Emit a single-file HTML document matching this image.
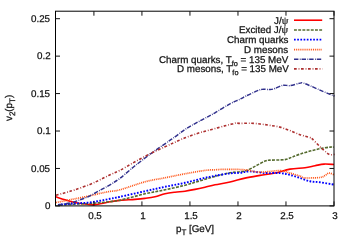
<!DOCTYPE html>
<html><head><meta charset="utf-8"><style>
html,body{margin:0;padding:0;background:#fff}
body{width:349px;height:245px;position:relative;overflow:hidden;font-family:"Liberation Sans",sans-serif}
.t{position:absolute;will-change:transform;text-rendering:geometricPrecision;-webkit-text-stroke:0.25px #111;font-size:9.8px;line-height:12px;color:#111;white-space:nowrap}
.c{text-align:center}
.s2{font-size:8px;position:relative;top:2.6px;line-height:0}
.p{font-family:"Liberation Serif",serif;-webkit-text-stroke:0.22px #111;font-size:10.5px;line-height:0}
.s{font-size:7.3px;position:relative;top:3px;line-height:0}
</style></head><body>
<svg width="349" height="245" viewBox="0 0 349 245" style="position:absolute;left:0;top:0">
<path d="M56.00,196.80 C57.50,197.30 61.83,198.85 65.00,199.80 C68.17,200.75 71.67,201.78 75.00,202.48 C78.33,203.18 82.00,203.60 85.00,203.99 C88.00,204.38 90.50,204.86 93.00,204.83 C95.50,204.80 97.17,204.33 100.00,203.82 C102.83,203.32 106.67,202.38 110.00,201.81 C113.33,201.24 115.83,200.80 120.00,200.40 C124.17,200.00 130.83,199.73 135.00,199.40 C139.17,199.07 141.67,198.83 145.00,198.40 C148.33,197.97 151.67,197.57 155.00,196.80 C158.33,196.03 161.67,194.57 165.00,193.80 C168.33,193.03 171.67,192.63 175.00,192.20 C178.33,191.77 181.67,191.67 185.00,191.20 C188.33,190.73 191.67,190.07 195.00,189.40 C198.33,188.73 201.67,187.97 205.00,187.20 C208.33,186.43 210.83,185.67 215.00,184.80 C219.17,183.93 225.00,183.12 230.00,182.00 C235.00,180.88 240.00,179.20 245.00,178.10 C250.00,177.00 255.00,176.24 260.00,175.40 C265.00,174.56 270.00,174.10 275.00,173.05 C280.00,172.00 285.00,169.99 290.00,169.10 C295.00,168.21 300.83,168.27 305.00,167.70 C309.17,167.13 311.83,166.30 315.00,165.70 C318.17,165.10 320.83,164.30 324.00,164.10 C327.17,163.90 332.33,164.43 334.00,164.50" fill="none" stroke="#ff0000" stroke-width="1.6" stroke-linejoin="round"/>
<path d="M60.00,204.83 C63.33,204.68 75.00,204.13 80.00,203.91 C85.00,203.68 86.67,203.70 90.00,203.49 C93.33,203.28 96.67,202.96 100.00,202.65 C103.33,202.34 106.67,202.05 110.00,201.64 C113.33,201.23 114.17,201.51 120.00,200.20 C125.83,198.89 137.50,195.53 145.00,193.80 C152.50,192.07 158.33,191.23 165.00,189.80 C171.67,188.37 179.17,186.70 185.00,185.20 C190.83,183.70 195.00,182.27 200.00,180.80 C205.00,179.33 210.00,177.73 215.00,176.40 C220.00,175.07 225.83,173.57 230.00,172.80 C234.17,172.03 237.17,172.20 240.00,171.80 C242.83,171.40 244.33,171.40 247.00,170.40 C249.67,169.40 253.00,167.35 256.00,165.80 C259.00,164.25 262.67,162.02 265.00,161.08 C267.33,160.14 266.67,160.41 270.00,160.17 C273.33,159.92 281.33,160.13 285.00,159.62 C288.67,159.11 289.50,158.02 292.00,157.10 C294.50,156.18 297.00,155.10 300.00,154.10 C303.00,153.10 306.67,152.00 310.00,151.10 C313.33,150.20 316.67,149.37 320.00,148.70 C323.33,148.03 327.67,147.37 330.00,147.10 C332.33,146.83 333.33,147.10 334.00,147.10" fill="none" stroke="#556b2f" stroke-width="1.6" stroke-dasharray="2.9,1.3" stroke-linejoin="round"/>
<path d="M58.00,204.83 C60.00,204.66 66.33,204.10 70.00,203.82 C73.67,203.54 76.67,203.38 80.00,203.15 C83.33,202.93 86.67,202.87 90.00,202.48 C93.33,202.09 96.67,201.41 100.00,200.80 C103.33,200.19 106.67,199.47 110.00,198.80 C113.33,198.13 114.17,198.07 120.00,196.80 C125.83,195.53 137.50,192.87 145.00,191.20 C152.50,189.53 158.33,188.20 165.00,186.80 C171.67,185.40 178.33,184.30 185.00,182.80 C191.67,181.30 200.00,178.97 205.00,177.80 C210.00,176.63 210.83,176.53 215.00,175.80 C219.17,175.07 225.83,173.90 230.00,173.40 C234.17,172.90 236.67,173.13 240.00,172.80 C243.33,172.47 245.83,171.37 250.00,171.40 C254.17,171.43 260.00,172.69 265.00,172.98 C270.00,173.27 275.83,172.81 280.00,173.13 C284.17,173.45 286.67,174.11 290.00,174.90 C293.33,175.69 296.67,176.83 300.00,177.90 C303.33,178.97 306.67,180.57 310.00,181.30 C313.33,182.03 315.92,181.73 320.00,182.30 C324.08,182.87 332.08,184.30 334.50,184.70" fill="none" stroke="#0000ff" stroke-width="1.9" stroke-dasharray="1.7,1.5" stroke-linejoin="round"/>
<path d="M56.00,202.48 C57.50,202.20 61.83,201.41 65.00,200.80 C68.17,200.19 70.83,199.63 75.00,198.80 C79.17,197.97 85.83,196.70 90.00,195.80 C94.17,194.90 96.67,194.13 100.00,193.40 C103.33,192.67 106.67,192.00 110.00,191.40 C113.33,190.80 114.17,191.40 120.00,189.80 C125.83,188.20 137.50,183.80 145.00,181.80 C152.50,179.80 158.33,179.13 165.00,177.80 C171.67,176.47 178.33,175.03 185.00,173.80 C191.67,172.57 200.00,171.07 205.00,170.40 C210.00,169.73 212.17,169.97 215.00,169.80 C217.83,169.63 219.50,169.47 222.00,169.40 C224.50,169.33 226.17,169.33 230.00,169.40 C233.83,169.47 240.00,169.33 245.00,169.80 C250.00,170.27 254.17,172.06 260.00,172.20 C265.83,172.34 275.00,170.48 280.00,170.63 C285.00,170.78 286.67,172.19 290.00,173.10 C293.33,174.01 297.50,175.30 300.00,176.10 C302.50,176.90 301.67,177.67 305.00,177.90 C308.33,178.13 316.67,177.90 320.00,177.50 C323.33,177.10 323.50,176.23 325.00,175.50 C326.50,174.77 327.42,173.20 329.00,173.10 C330.58,173.00 333.58,174.60 334.50,174.90" fill="none" stroke="#ff5518" stroke-width="1.7" stroke-dasharray="1.0,0.9" stroke-linejoin="round"/>
<path d="M58.00,204.83 C60.00,204.52 66.33,203.82 70.00,202.98 C73.67,202.15 76.67,201.00 80.00,199.80 C83.33,198.60 86.67,197.38 90.00,195.80 C93.33,194.22 96.67,192.13 100.00,190.30 C103.33,188.47 106.67,186.80 110.00,184.80 C113.33,182.80 115.83,181.47 120.00,178.30 C124.17,175.13 129.67,170.05 135.00,165.80 C140.33,161.55 147.00,156.47 152.00,152.80 C157.00,149.13 161.17,146.47 165.00,143.80 C168.83,141.13 171.67,139.20 175.00,136.80 C178.33,134.40 181.67,131.60 185.00,129.40 C188.33,127.20 191.67,125.47 195.00,123.60 C198.33,121.73 201.67,120.00 205.00,118.20 C208.33,116.40 210.83,115.20 215.00,112.80 C219.17,110.40 225.83,106.07 230.00,103.80 C234.17,101.53 237.33,100.50 240.00,99.20 C242.67,97.90 243.50,97.23 246.00,96.00 C248.50,94.77 252.33,92.91 255.00,91.80 C257.67,90.69 259.50,89.73 262.00,89.35 C264.50,88.98 267.83,89.72 270.00,89.57 C272.17,89.42 272.83,89.17 275.00,88.45 C277.17,87.73 280.50,85.74 283.00,85.26 C285.50,84.79 287.17,85.96 290.00,85.60 C292.83,85.24 297.83,83.53 300.00,83.10 C302.17,82.67 301.33,82.57 303.00,83.00 C304.67,83.43 307.17,84.52 310.00,85.70 C312.83,86.88 316.67,88.67 320.00,90.10 C323.33,91.53 327.58,93.30 330.00,94.30 C332.42,95.30 333.75,95.80 334.50,96.10" fill="none" stroke="#30308c" stroke-width="1.45" stroke-dasharray="4.4,1.4,0.8,1.0" stroke-linejoin="round"/>
<path d="M56.00,195.30 C57.50,194.88 61.83,193.72 65.00,192.80 C68.17,191.88 70.83,191.20 75.00,189.80 C79.17,188.40 85.83,186.07 90.00,184.40 C94.17,182.73 96.67,181.40 100.00,179.80 C103.33,178.20 106.67,176.38 110.00,174.80 C113.33,173.22 115.83,172.47 120.00,170.30 C124.17,168.13 129.67,164.72 135.00,161.80 C140.33,158.88 147.00,155.30 152.00,152.80 C157.00,150.30 161.17,148.57 165.00,146.80 C168.83,145.03 171.67,143.70 175.00,142.20 C178.33,140.70 181.67,139.13 185.00,137.80 C188.33,136.47 191.67,135.30 195.00,134.20 C198.33,133.10 201.67,132.13 205.00,131.20 C208.33,130.27 211.67,129.50 215.00,128.60 C218.33,127.70 222.17,126.57 225.00,125.80 C227.83,125.03 230.17,124.47 232.00,124.00 C233.83,123.53 234.67,123.10 236.00,123.00 C237.33,122.90 237.67,123.37 240.00,123.40 C242.33,123.43 246.67,123.10 250.00,123.20 C253.33,123.30 256.67,123.64 260.00,124.00 C263.33,124.36 266.67,124.84 270.00,125.37 C273.33,125.89 276.67,126.26 280.00,127.13 C283.33,128.01 286.67,129.34 290.00,130.60 C293.33,131.86 296.67,133.55 300.00,134.70 C303.33,135.85 308.00,136.83 310.00,137.50 C312.00,138.17 310.33,137.17 312.00,138.70 C313.67,140.23 317.67,144.47 320.00,146.70 C322.33,148.93 324.50,150.83 326.00,152.10 C327.50,153.37 328.08,153.85 329.00,154.30 C329.92,154.75 330.58,154.78 331.50,154.80 C332.42,154.82 334.00,154.47 334.50,154.40" fill="none" stroke="#ad2f2f" stroke-width="1.6" stroke-dasharray="2.7,1.9,0.8,1.6" stroke-linejoin="round"/>
<path d="M294,20.2 L322.2,20.2" fill="none" stroke="#ff0000" stroke-width="1.6"/>
<path d="M294,30.0 L322.2,30.0" fill="none" stroke="#556b2f" stroke-width="1.6" stroke-dasharray="2.9,1.3"/>
<path d="M294,39.6 L322.2,39.6" fill="none" stroke="#0000ff" stroke-width="1.9" stroke-dasharray="1.7,1.5"/>
<path d="M294,49.6 L322.2,49.6" fill="none" stroke="#ff5518" stroke-width="1.7" stroke-dasharray="1.0,0.9"/>
<path d="M294,59.2 L322.2,59.2" fill="none" stroke="#30308c" stroke-width="1.45" stroke-dasharray="4.4,1.4,0.8,1.0"/>
<path d="M294,68.9 L322.2,68.9" fill="none" stroke="#ad2f2f" stroke-width="1.6" stroke-dasharray="2.7,1.9,0.8,1.6"/>
<rect x="55.5" y="11.2" width="278.5" height="194.70000000000002" fill="none" stroke="#000" stroke-width="1"/>
<path d="M55.5,205.90 h4.5 M334.0,205.90 h-4.5 M55.5,168.46 h4.5 M334.0,168.46 h-4.5 M55.5,131.02 h4.5 M334.0,131.02 h-4.5 M55.5,93.57 h4.5 M334.0,93.57 h-4.5 M55.5,56.13 h4.5 M334.0,56.13 h-4.5 M55.5,18.69 h4.5 M334.0,18.69 h-4.5 M93.91,205.9 v-4.5 M93.91,11.2 v4.5 M141.93,205.9 v-4.5 M141.93,11.2 v4.5 M189.95,205.9 v-4.5 M189.95,11.2 v4.5 M237.97,205.9 v-4.5 M237.97,11.2 v4.5 M285.98,205.9 v-4.5 M285.98,11.2 v4.5 M334.00,205.9 v-4.5 M334.00,11.2 v4.5" fill="none" stroke="#111" stroke-width="1"/>
</svg>
<div class="t" style="right:298.5px;top:200.9px">0</div>
<div class="t" style="right:298.5px;top:163.5px">0.05</div>
<div class="t" style="right:298.5px;top:126.0px">0.1</div>
<div class="t" style="right:298.5px;top:88.6px">0.15</div>
<div class="t" style="right:298.5px;top:51.1px">0.2</div>
<div class="t" style="right:298.5px;top:13.7px">0.25</div>
<div class="t c" style="left:74.9px;width:40px;top:210.7px">0.5</div>
<div class="t c" style="left:122.9px;width:40px;top:210.7px">1</div>
<div class="t c" style="left:170.9px;width:40px;top:210.7px">1.5</div>
<div class="t c" style="left:219.0px;width:40px;top:210.7px">2</div>
<div class="t c" style="left:267.0px;width:40px;top:210.7px">2.5</div>
<div class="t c" style="left:315.0px;width:40px;top:210.7px">3</div>
<div class="t" style="right:60.5px;top:15.5px">J/<span class="p">&psi;</span></div>
<div class="t" style="right:60.5px;top:25.3px">Excited J/<span class="p">&psi;</span></div>
<div class="t" style="right:60.5px;top:34.9px">Charm quarks</div>
<div class="t" style="right:60.5px;top:44.9px">D mesons</div>
<div class="t" style="right:60.5px;top:54.5px">Charm quarks, T<span class="s">fo</span> = 135 MeV</div>
<div class="t" style="right:60.5px;top:64.2px">D mesons, T<span class="s">fo</span> = 135 MeV</div>
<div class="t c" style="left:154.8px;width:80px;top:223.8px">p<span class="s2">T</span> [GeV]</div>
<div class="t" style="left:10px;top:104.3px;width:0;height:0"><div class="t" style="transform:rotate(-90deg);transform-origin:0 0;left:-6px;top:17px;">v<span class="s2">2</span>(p<span class="s2">T</span>)</div></div>
</body></html>
